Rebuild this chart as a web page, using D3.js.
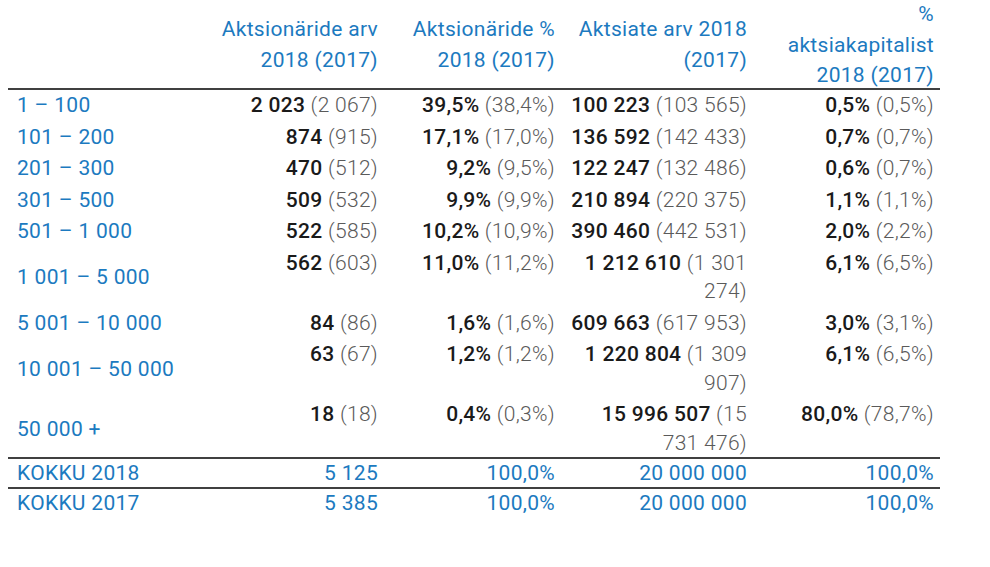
<!DOCTYPE html>
<html>
<head>
<meta charset="utf-8">
<script src="https://cdn.jsdelivr.net/npm/d3@7"></script>
<style>
  html, body { margin: 0; padding: 0; background: #fff; }
  svg { display: block; }
  text { font-family: Roboto, "Noto Sans", sans-serif; font-size: 21px; letter-spacing: 0.3px; }
  .blue { fill: #1c7ac0; font-weight: 400; }
  .bold { fill: #1a1a1a; font-weight: 500; }
  .light { fill: #5a5a5a; font-weight: 300; }
</style>
</head>
<body>
<svg id="chart" width="990" height="567"></svg>
<script>
// ---- data ----
const categories = ["1 – 100", "101 – 200", "201 – 300", "301 – 500", "501 – 1 000",
  "1 001 – 5 000", "5 001 – 10 000", "10 001 – 50 000", "50 000 +"];
const shareholders2018 = [2023, 874, 470, 509, 522, 562, 84, 63, 18];
const shareholders2017 = [2067, 915, 512, 532, 585, 603, 86, 67, 18];
const shareholderPct2018 = [39.5, 17.1, 9.2, 9.9, 10.2, 11.0, 1.6, 1.2, 0.4];
const shareholderPct2017 = [38.4, 17.0, 9.5, 9.9, 10.9, 11.2, 1.6, 1.2, 0.3];
const shares2018 = [100223, 136592, 122247, 210894, 390460, 1212610, 609663, 1220804, 15996507];
const shares2017 = [103565, 142433, 132486, 220375, 442531, 1301274, 617953, 1309907, 15731476];
const capitalPct2018 = [0.5, 0.7, 0.6, 1.1, 2.0, 6.1, 3.0, 6.1, 80.0];
const capitalPct2017 = [0.5, 0.7, 0.7, 1.1, 2.2, 6.5, 3.1, 6.5, 78.7];
const totalLabels = ["KOKKU 2018", "KOKKU 2017"];
const totalShareholders = [5125, 5385];
const totalShareholderPct = [100.0, 100.0];
const totalShares = [20000000, 20000000];
const totalCapitalPct = [100.0, 100.0];
const columnHeaders = ["Aktsionäride arv 2018 (2017)", "Aktsionäride % 2018 (2017)",
  "Aktsiate arv 2018 (2017)", "% aktsiakapitalist 2018 (2017)"];
const columnKeys = ["c1", "c2", "c3", "c4"];

// ---- formatting ----
const loc = d3.formatLocale({decimal: ",", thousands: " ", grouping: [3], currency: ["", ""]});
const fInt = loc.format(",d");
const fPct = v => loc.format(".1f")(v) + "%";

// ---- layout ----
const svg = d3.select("#chart");
const xRight = d3.scaleOrdinal().domain(columnKeys).range([378, 555, 747, 934]);
const maxW = d3.scaleOrdinal().domain(columnKeys).range([190, 180, 180, 156]);
const labelX = 17, lineX0 = 8, lineX1 = 940;
const headerMid = 44, headerLH = 30.5;
const bodyTop = 89, rowH = 31.5, bodyLH = 28.5, totalRowH = 30;
const baseOff = 7.5;

// measurement helper
const meas = svg.append("text").attr("x", -1000).attr("y", -1000);
function lineWidth(words) {
  meas.selectAll("tspan").remove();
  words.forEach((w, i) => {
    meas.append("tspan").attr("class", w.cls).text((i ? " " : "") + w.t);
  });
  return meas.node().getComputedTextLength();
}
function wrap(words, width) {
  const lines = [];
  let cur = [];
  words.forEach(w => {
    const test = cur.concat([w]);
    if (cur.length && lineWidth(test) > width) { lines.push(cur); cur = [w]; }
    else cur = test;
  });
  if (cur.length) lines.push(cur);
  return lines;
}
function tokens(str, cls) { return str.split(" ").map(t => ({t, cls})); }

function drawLines(lines, xr, yFirst, lh) {
  lines.forEach((ln, i) => {
    const tx = svg.append("text").attr("x", xr).attr("y", yFirst + i * lh).attr("text-anchor", "end");
    ln.forEach((w, j) => tx.append("tspan").attr("class", w.cls).text((j ? " " : "") + w.t));
  });
}

// header
columnHeaders.forEach((h, ci) => {
  const k = columnKeys[ci];
  const lines = wrap(tokens(h, "blue"), maxW(k));
  const y0 = headerMid - (lines.length - 1) * headerLH / 2 + baseOff;
  drawLines(lines, xRight(k), y0, headerLH);
});

// body rows
const rows = categories.map((c, i) => ({
  label: c,
  cells: [
    tokens(fInt(shareholders2018[i]), "bold").concat(tokens("(" + fInt(shareholders2017[i]) + ")", "light")),
    tokens(fPct(shareholderPct2018[i]), "bold").concat(tokens("(" + fPct(shareholderPct2017[i]) + ")", "light")),
    tokens(fInt(shares2018[i]), "bold").concat(tokens("(" + fInt(shares2017[i]) + ")", "light")),
    tokens(fPct(capitalPct2018[i]), "bold").concat(tokens("(" + fPct(capitalPct2017[i]) + ")", "light"))
  ]
}));

let y = bodyTop;
svg.append("line").attr("x1", lineX0).attr("x2", lineX1).attr("y1", y).attr("y2", y)
  .attr("stroke", "#000").attr("stroke-width", 1.4);

rows.forEach(r => {
  const wrapped = r.cells.map((cell, ci) => wrap(cell, maxW(columnKeys[ci])));
  const n = d3.max(wrapped, w => w.length);
  const h = rowH + (n - 1) * bodyLH;
  const firstMid = y + rowH / 2;
  svg.append("text").attr("class", "blue").attr("x", labelX).attr("y", y + h / 2 + baseOff).text(r.label);
  wrapped.forEach((lines, ci) => drawLines(lines, xRight(columnKeys[ci]), firstMid + baseOff, bodyLH));
  y += h;
});

// totals
totalLabels.forEach((lab, i) => {
  svg.append("line").attr("x1", lineX0).attr("x2", lineX1).attr("y1", y).attr("y2", y)
    .attr("stroke", "#000").attr("stroke-width", 1.4);
  const mid = y + totalRowH / 2 - 1;
  svg.append("text").attr("class", "blue").attr("x", labelX).attr("y", mid + baseOff).text(lab);
  const vals = [fInt(totalShareholders[i]), fPct(totalShareholderPct[i]), fInt(totalShares[i]), fPct(totalCapitalPct[i])];
  vals.forEach((v, ci) => {
    svg.append("text").attr("class", "blue").attr("text-anchor", "end")
      .attr("x", xRight(columnKeys[ci])).attr("y", mid + baseOff).text(v);
  });
  y += totalRowH;
});
meas.remove();
</script>
</body>
</html>
